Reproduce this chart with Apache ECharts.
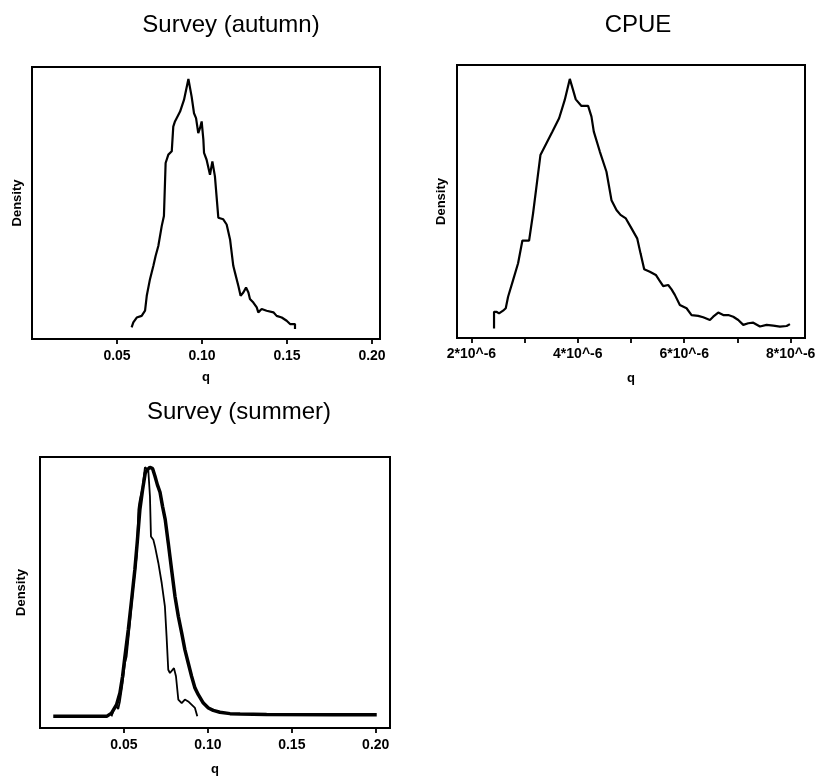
<!DOCTYPE html>
<html>
<head>
<meta charset="utf-8">
<title>Posterior densities of catchability q</title>
<script src="https://cdn.jsdelivr.net/npm/echarts@6/dist/echarts.min.js"></script>
<style>
  html, body { margin: 0; padding: 0; background: #fff; }
  #chart { width: 827px; height: 779px; }
</style>
</head>
<body>
<div id="chart"></div>
<script>
// Survey (autumn): q and relative density
const autumnQ = [0.0586, 0.0596, 0.0616, 0.0645, 0.0665, 0.0675, 0.0694, 0.0714, 0.0727, 0.0743,
  0.0763, 0.0776, 0.0786, 0.0802, 0.0822, 0.0831, 0.0841, 0.0871, 0.0894, 0.0920,
  0.0939, 0.0953, 0.0965, 0.0978, 0.0988, 0.0998, 0.1008, 0.1012, 0.1027, 0.1047,
  0.1061, 0.1076, 0.1096, 0.1125, 0.1145, 0.1165, 0.1184, 0.1194, 0.1214, 0.1227,
  0.1243, 0.1259, 0.1273, 0.1282, 0.1302, 0.1322, 0.1331, 0.1351, 0.1380, 0.1420,
  0.1439, 0.1469, 0.1498, 0.1518, 0.1547, 0.1547];
const autumnDensity = [4.3, 6.1, 7.9, 8.5, 10.4, 15.9, 22.0, 26.9, 30.5, 34.2,
  41.5, 45.2, 64.7, 67.8, 69.0, 78.1, 80.0, 83.6, 87.9, 95.6,
  89.1, 83.0, 81.2, 75.7, 77.5, 80.0, 73.3, 68.4, 65.9, 60.4,
  65.3, 59.8, 44.6, 44.0, 42.1, 36.6, 26.9, 24.4, 19.5, 15.9,
  17.1, 18.9, 17.1, 14.7, 13.4, 11.6, 9.8, 11.0, 10.4, 9.8,
  8.5, 7.9, 6.7, 5.5, 5.5, 3.7];

// CPUE: q (in units of 10^-6) and relative density
const cpueQMicro = [2.426, 2.426, 2.470, 2.520, 2.596, 2.646, 2.690, 2.784, 2.878, 2.959,
  3.085, 3.160, 3.235, 3.298, 3.411, 3.524, 3.649, 3.755, 3.850, 3.912,
  3.962, 4.069, 4.194, 4.257, 4.301, 4.414, 4.539, 4.633, 4.727, 4.803,
  4.903, 4.991, 5.116, 5.179, 5.248, 5.354, 5.467, 5.530, 5.605, 5.699,
  5.762, 5.824, 5.918, 6.044, 6.138, 6.263, 6.357, 6.483, 6.545, 6.639,
  6.734, 6.828, 6.922, 7.016, 7.110, 7.204, 7.298, 7.423, 7.549, 7.674,
  7.799, 7.925, 7.987];
const cpueDensity = [3.5, 9.6, 9.6, 9.0, 10.0, 10.9, 15.1, 21.2, 27.4, 35.7,
  35.7, 45.7, 57.3, 67.0, 71.3, 75.6, 80.5, 87.2, 94.9, 90.8,
  87.4, 85.0, 85.0, 81.1, 75.6, 68.3, 60.9, 50.5, 46.9, 45.1,
  43.8, 40.8, 36.5, 31.0, 25.2, 24.3, 23.1, 21.2, 19.0, 19.4,
  17.8, 15.8, 12.1, 10.9, 8.4, 8.1, 7.6, 6.6, 7.8, 9.3,
  8.4, 8.4, 7.8, 6.6, 4.8, 5.4, 5.6, 4.2, 4.8, 4.5,
  4.2, 4.4, 5.1];

// Survey (summer): smooth density (thick) and sampled density (thin)
const summerSmoothQ = [0.0079, 0.0397, 0.0426, 0.0456, 0.0476, 0.0492, 0.0506, 0.0526, 0.0546, 0.0565,
  0.0579, 0.0595, 0.0611, 0.0627, 0.0639, 0.0655, 0.0671, 0.0685, 0.0699, 0.0715,
  0.0730, 0.0746, 0.0764, 0.0784, 0.0804, 0.0824, 0.0844, 0.0863, 0.0883, 0.0903,
  0.0923, 0.0943, 0.0973, 0.1003, 0.1032, 0.1072, 0.1132, 0.1192, 0.1350, 0.1748,
  0.2006];
const summerSmoothDensity = [4.3, 4.3, 5.5, 8.6, 12.9, 19.1, 26.4, 36.3, 47.4, 58.4,
  68.3, 80.6, 87.9, 94.1, 95.3, 96.2, 95.7, 92.9, 89.8, 87.0,
  81.8, 76.9, 68.3, 58.4, 48.6, 41.2, 35.1, 28.9, 24.0, 19.1,
  14.8, 12.3, 9.2, 7.4, 6.5, 5.8, 5.3, 5.2, 5.0, 4.9,
  4.9];
const summerSampleQ = [0.0426, 0.0440, 0.0456, 0.0466, 0.0476, 0.0492, 0.0506, 0.0516, 0.0536, 0.0556,
  0.0576, 0.0586, 0.0591, 0.0599, 0.0611, 0.0625, 0.0645, 0.0655, 0.0661, 0.0675,
  0.0685, 0.0705, 0.0725, 0.0744, 0.0754, 0.0764, 0.0774, 0.0784, 0.0798, 0.0810,
  0.0824, 0.0844, 0.0863, 0.0883, 0.0903, 0.0923, 0.0937];
const summerSampleDensity = [4.3, 6.8, 8.0, 7.0, 9.8, 16.6, 24.0, 26.4, 38.7, 52.3,
  63.3, 80.6, 83.0, 85.5, 88.6, 96.2, 95.3, 85.5, 70.7, 69.5,
  67.0, 60.9, 53.5, 44.9, 33.8, 21.5, 20.3, 20.9, 22.1, 19.1,
  10.5, 9.2, 10.5, 9.8, 8.6, 7.4, 4.3];

// Tick positions
const surveyTicks = [0.05, 0.10, 0.15, 0.20];
const cpueTicks = [2, 3, 4, 5, 6, 7, 8];
const cpueLabels = [2, 4, 6, 8];

const pairs = (xs, ys) => xs.map((x, i) => [x, ys[i]]);

const FONT = '"Liberation Sans", Arial, Helvetica, sans-serif';

function xAxisFor(gridIndex, min, max, ticks, labels, fmt, nameGap, margin) {
  return {
    gridIndex, type: 'value', min, max,
    name: 'q', nameLocation: 'middle', nameGap,
    nameTextStyle: { fontFamily: FONT, fontWeight: 'bold', fontSize: 13, color: '#000' },
    axisLine: { show: false },
    axisTick: { show: true, length: 5, customValues: ticks, lineStyle: { color: '#000', width: 1.8 } },
    axisLabel: { customValues: labels, formatter: fmt, margin,
      fontFamily: FONT, fontWeight: 'bold', fontSize: 14, color: '#000' },
    splitLine: { show: false }
  };
}

function yAxisFor(gridIndex, gap) {
  return {
    gridIndex, type: 'value', min: 0, max: 100,
    name: 'Density', nameLocation: 'middle', nameGap: gap,
    nameTextStyle: { fontFamily: FONT, fontWeight: 'bold', fontSize: 13, color: '#000' },
    axisLine: { show: false }, axisTick: { show: false },
    axisLabel: { show: false }, splitLine: { show: false }
  };
}

function lineSeries(idx, data, width) {
  return {
    type: 'line', xAxisIndex: idx, yAxisIndex: idx, data,
    showSymbol: false, smooth: false, silent: true,
    lineStyle: { color: '#000', width }
  };
}

const titleStyle = { fontFamily: FONT, fontWeight: 'normal', fontSize: 24, color: '#000' };
const boxStyle = { show: true, borderColor: '#000', borderWidth: 2, backgroundColor: 'transparent' };

const chart = echarts.init(document.getElementById('chart'), null, { renderer: 'canvas' });
chart.setOption({
  backgroundColor: '#fff',
  animation: false,
  title: [
    { text: 'Survey (autumn)', left: 231, top: 13, padding: 0, textAlign: 'center', textStyle: titleStyle },
    { text: 'CPUE', left: 638, top: 13, padding: 0, textAlign: 'center', textStyle: titleStyle },
    { text: 'Survey (summer)', left: 239, top: 400, padding: 0, textAlign: 'center', textStyle: titleStyle }
  ],
  grid: [
    Object.assign({ left: 32, top: 67, width: 348, height: 272 }, boxStyle),
    Object.assign({ left: 457, top: 65, width: 348, height: 273 }, boxStyle),
    Object.assign({ left: 40, top: 457, width: 350, height: 271 }, boxStyle)
  ],
  xAxis: [
    xAxisFor(0, 0, 0.2047, surveyTicks, surveyTicks, v => v.toFixed(2), 32, 10),
    xAxisFor(1, 1.73, 8.27, cpueTicks, cpueLabels, v => Math.round(v) + '*10^-6', 34, 9),
    xAxisFor(2, 0, 0.2085, surveyTicks, surveyTicks, v => v.toFixed(2), 35, 10)
  ],
  yAxis: [yAxisFor(0, 8), yAxisFor(1, 9), yAxisFor(2, 12)],
  series: [
    lineSeries(0, pairs(autumnQ, autumnDensity), 2.2),
    lineSeries(1, pairs(cpueQMicro, cpueDensity), 2.2),
    lineSeries(2, pairs(summerSmoothQ, summerSmoothDensity), 3.5),
    lineSeries(2, pairs(summerSampleQ, summerSampleDensity), 1.8)
  ]
});
</script>
</body>
</html>
